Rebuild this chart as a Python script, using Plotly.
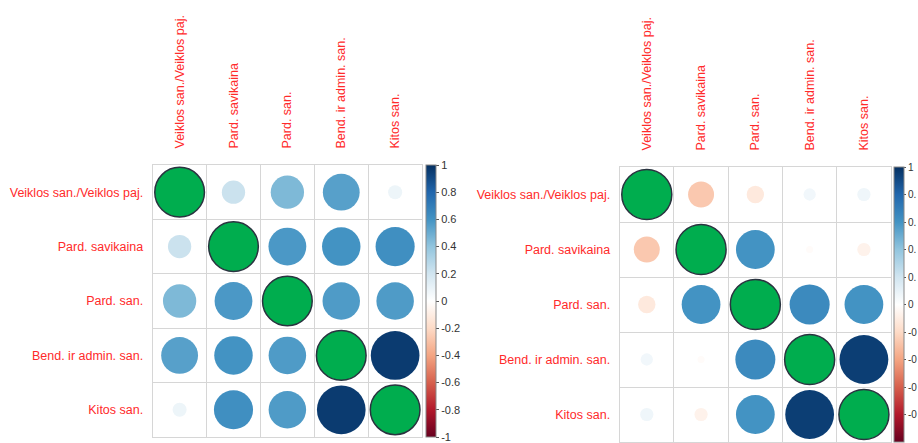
import plotly.graph_objects as go
import numpy as np

labels = ["Veiklos san./Veiklos paj.", "Pard. savikaina", "Pard. san.",
          "Bend. ir admin. san.", "Kitos san."]

corr_left = [
    [1.00, 0.22, 0.45, 0.55, 0.08],
    [0.22, 1.00, 0.58, 0.60, 0.62],
    [0.45, 0.58, 1.00, 0.57, 0.57],
    [0.55, 0.60, 0.57, 1.00, 0.96],
    [0.08, 0.62, 0.57, 0.96, 1.00],
]
corr_right = [
    [1.00, -0.27, -0.12, 0.06, 0.07],
    [-0.27, 1.00, 0.60, -0.02, -0.07],
    [-0.12, 0.60, 1.00, 0.64, 0.60],
    [0.06, -0.02, 0.64, 1.00, 0.95],
    [0.07, -0.07, 0.60, 0.95, 1.00],
]

cbar_vals = [1, 0.8, 0.6, 0.4, 0.2, 0, -0.2, -0.4, -0.6, -0.8, -1]
cbar_text = ["1", "0.8", "0.6", "0.4", "0.2", "0", "-0.2", "-0.4", "-0.6", "-0.8", "-1"]
# right-hand legend: labels are cut by the picture's right/bottom edge in the reference,
# only these visible parts are shown
cbar_vals_right = [1, 0.8, 0.6, 0.4, 0.2, 0, -0.2, -0.4, -0.6, -0.8]
cbar_text_right = ["1", "0.", "0.", "0.", "0.", "0", "-0", "-0", "-0", "-0"]

rdbu = ["#67001F", "#B2182B", "#D6604D", "#F4A582", "#FDDBC7", "#FFFFFF",
        "#D1E5F0", "#92C5DE", "#4393C3", "#2166AC", "#053061"]
colorscale = [[i / 10, c] for i, c in enumerate(rdbu)]

W, H = 918, 443
FONT = "Liberation Sans, Arial, sans-serif"

# panel geometry in pixels: (left, right, top, bottom)
panels = [
    dict(mat=corr_left, px=(153, 423, 165, 437), cb_x=427, suffix="",
         tv=cbar_vals, tt=cbar_text, cbfont=11, ticklen=3),
    dict(mat=corr_right, px=(621, 893, 167, 442), cb_x=896, suffix="2",
         tv=cbar_vals_right, tt=cbar_text_right, cbfont=10, ticklen=2),
]

fig = go.Figure()
n = len(labels)
layout = {}
for p in panels:
    l, r, t, b = p["px"]
    cell = (r - l) / n
    mat = np.array(p["mat"])
    xs, ys, cs, ss = [], [], [], []
    dx, dy, ds = [], [], []
    for i in range(n):
        for j in range(n):
            size = 0.92 * cell * np.sqrt(abs(mat[i, j]))
            if i == j:
                dx.append(j); dy.append(i); ds.append(size)
            else:
                xs.append(j); ys.append(i); cs.append(mat[i, j]); ss.append(size)
    xa = "x" + p["suffix"]
    ya = "y" + p["suffix"]
    fig.add_trace(go.Scatter(
        x=xs, y=ys, mode="markers", xaxis=xa, yaxis=ya, hoverinfo="skip",
        marker=dict(size=ss, color=cs, colorscale=colorscale, cmin=-1, cmax=1,
                    line=dict(width=0), opacity=1, showscale=True,
                    colorbar=dict(
                        x=p["cb_x"] / W, xanchor="left", xpad=0,
                        y=1 - ((t + b) / 2) / H, yanchor="middle",
                        lenmode="pixels", len=b - t, ypad=0,
                        thickness=10, thicknessmode="pixels",
                        outlinewidth=1, outlinecolor="#888",
                        tickvals=p["tv"], ticktext=p["tt"],
                        ticks="outside", ticklen=p["ticklen"], tickcolor="#555",
                        tickfont=dict(family=FONT, size=p["cbfont"], color="#333"),
                    )),
        showlegend=False,
    ))
    fig.add_trace(go.Scatter(
        x=dx, y=dy, mode="markers", xaxis=xa, yaxis=ya, hoverinfo="skip",
        marker=dict(size=ds, color="#00AD4E", opacity=1,
                    line=dict(width=1.5, color="#2a3440")),
        showlegend=False,
    ))
    grid_vals = [k - 0.5 for k in range(n + 1)]
    common = dict(range=[-0.5, n - 0.5], showgrid=False, zeroline=False,
                  showline=True, mirror=True, linecolor="#d6d6d6", linewidth=1,
                  ticks="", automargin=False,
                  minor=dict(tickvals=grid_vals, showgrid=True,
                             gridcolor="#d6d6d6", gridwidth=1, ticks=""),
                  tickfont=dict(family=FONT, size=12.5, color="#ff2a2a"),
                  fixedrange=True)
    layout["xaxis" + p["suffix"]] = dict(
        common, domain=[l / W, r / W], anchor=ya, side="top",
        tickvals=list(range(n)), ticktext=labels, tickangle=-90,
        ticklabelstandoff=13)
    layout["yaxis" + p["suffix"]] = dict(
        common, domain=[1 - b / H, 1 - t / H], anchor=xa,
        range=[n - 0.5, -0.5],
        tickvals=list(range(n)), ticktext=labels, ticklabelstandoff=6)

fig.update_layout(
    width=W, height=H, margin=dict(l=0, r=0, t=0, b=0),
    paper_bgcolor="white", plot_bgcolor="white",
    font=dict(family=FONT), **layout,
)
fig.write_html(
    "out.html",
    config={"displayModeBar": False},
    post_script=(
        "var s=document.createElement('style');"
        "s.textContent='html,body{margin:0;padding:0;overflow:hidden;"
        "width:918px;height:443px;} body>div{line-height:0;}';"
        "document.head.appendChild(s);"
    ),
)
